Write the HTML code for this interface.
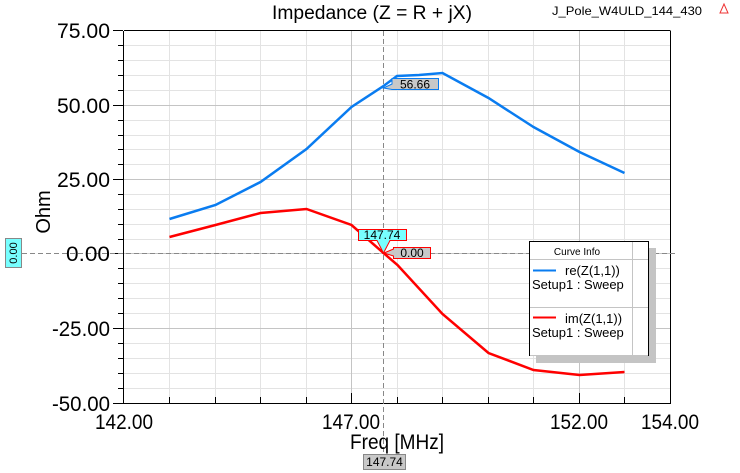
<!DOCTYPE html>
<html><head><style>body{margin:0;background:#fff}svg{display:block;font-family:"Liberation Sans",sans-serif}</style></head><body>
<svg width="740" height="473" viewBox="0 0 740 473" xmlns="http://www.w3.org/2000/svg">
<rect width="740" height="473" fill="#fff"/>
<g stroke="#e3e3e3" stroke-width="1">
<path d="M169.5 31V403M215.5 31V403M260.5 31V403M306.5 31V403M351.5 31V403M397.5 31V403M442.5 31V403M488.5 31V403M533.5 31V403M624.5 31V403"/>
<path d="M124 45.5H670M124 60.5H670M124 75.5H670M124 90.5H670M124 120.5H670M124 135.5H670M124 149.5H670M124 164.5H670M124 194.5H670M124 209.5H670M124 224.5H670M124 239.5H670M124 268.5H670M124 283.5H670M124 298.5H670M124 313.5H670M124 343.5H670M124 358.5H670M124 373.5H670M124 388.5H670"/>
</g>
<g stroke="#c4c4c4"><path d="M351.5 31V403M579.5 31V403M124 105.5H670M124 179.5H670M124 253.5H670M124 328.5H670"/></g>
<g stroke="#000" fill="none"><path d="M123.5 31V403.5H670.5V31"/><path d="M124 30.5H670.5"/>
<path d="M113 30.5H123M113 105.5H123M113 179.5H123M113 253.5H123M113 328.5H123M113 403.5H123"/>
<path d="M118 45.5H123M118 60.5H123M118 75.5H123M118 90.5H123M118 120.5H123M118 135.5H123M118 149.5H123M118 164.5H123M118 194.5H123M118 209.5H123M118 224.5H123M118 239.5H123M118 268.5H123M118 283.5H123M118 298.5H123M118 313.5H123M118 343.5H123M118 358.5H123M118 373.5H123M118 388.5H123"/>
<path d="M169.5 397V403M215.5 397V403M260.5 397V403M306.5 397V403M397.5 397V403M442.5 397V403M488.5 397V403M533.5 397V403M624.5 397V403M351.5 393V403M579.5 393V403"/>
</g>
<g stroke="#888" stroke-dasharray="5,3"><path d="M22 253.5H676M383.5 31V455"/></g>
<polyline fill="none" stroke="#0a7cf0" stroke-width="2.5" points="169.5,219 215.5,205 260.5,182 306.5,149 351.5,107 383.5,86 397,76 419,75 442.5,73 488.5,98 533.5,127 579.5,152 624.5,173"/>
<polyline fill="none" stroke="#f00" stroke-width="2.5" points="169.5,237 215.5,225 260.5,213 306.5,209 351.5,225 383.5,253 397.5,265 442.5,314 488.5,353 533.5,370 579.5,375 624.5,372"/>
<g font-size="21" fill="#000" lengthAdjust="spacingAndGlyphs">
<text x="57" y="38" textLength="53" lengthAdjust="spacingAndGlyphs">75.00</text>
<text x="57" y="113" textLength="53" lengthAdjust="spacingAndGlyphs">50.00</text>
<text x="57" y="187" textLength="53" lengthAdjust="spacingAndGlyphs">25.00</text>
<text x="66" y="261" textLength="44" lengthAdjust="spacingAndGlyphs">0.00</text>
<text x="52" y="336" textLength="58" lengthAdjust="spacingAndGlyphs">-25.00</text>
<text x="52" y="411" textLength="58" lengthAdjust="spacingAndGlyphs">-50.00</text>
<text x="95" y="429" textLength="58" lengthAdjust="spacingAndGlyphs">142.00</text>
<text x="322" y="429" textLength="58" lengthAdjust="spacingAndGlyphs">147.00</text>
<text x="550" y="429" textLength="58" lengthAdjust="spacingAndGlyphs">152.00</text>
<text x="641" y="429" textLength="58" lengthAdjust="spacingAndGlyphs">154.00</text>
<text x="350" y="449" textLength="94" lengthAdjust="spacingAndGlyphs">Freq [MHz]</text>
<text x="272" y="19" font-size="19" textLength="200" lengthAdjust="spacingAndGlyphs">Impedance (Z = R + jX)</text></g>
<text x="50" y="212" font-size="20" text-anchor="middle" transform="rotate(-90 50 212)">Ohm</text>
<text x="552" y="15" font-size="12" textLength="150" lengthAdjust="spacingAndGlyphs">J_Pole_W4ULD_144_430</text>
<path d="M724 4L720 13H728Z" fill="none" stroke="#e33" stroke-width="1"/>
<rect x="5.5" y="238.5" width="16" height="29" fill="#7ff" stroke="#888"/>
<text x="17" y="253" font-size="11" text-anchor="middle" transform="rotate(-90 17 253)">0.00</text>
<rect x="363.5" y="454.5" width="42" height="15" fill="#c8c8c8" stroke="#888"/>
<text x="384.5" y="466" font-size="12" text-anchor="middle">147.74</text>
<path d="M383.5 88L392 84V78.5H438.5V89.5H392Z" fill="#c8c8c8" stroke="#0a7cf0"/>
<text x="415" y="88.5" font-size="12" text-anchor="middle">56.66</text>
<path d="M358.5 229.5H406.5V240.5H390L383.5 253L377 240.5H358.5Z" fill="#7ff" stroke="#f00"/>
<text x="382" y="239" font-size="12" text-anchor="middle">147.74</text>
<path d="M384 253L393.5 249V247.5H430.5V258.5H393.5V256Z" fill="#c8c8c8" stroke="#f00"/>
<text x="412" y="257" font-size="12" text-anchor="middle">0.00</text>
<rect x="536" y="248" width="120" height="115" fill="#c4c4c4"/>
<rect x="529.5" y="241.5" width="119" height="114" fill="#fff" stroke="#000"/>
<path d="M530 259.5H648M530 307.5H648M530 355.5H648M632.5 242V355" stroke="#c4c4c4"/>
<text x="577" y="255" font-size="10" text-anchor="middle">Curve Info</text>
<path d="M533 270.5H556" stroke="#0a7cf0" stroke-width="2"/><path d="M533 317.5H556" stroke="#f00" stroke-width="2"/>
<g font-size="13"><text x="565" y="275">re(Z(1,1))</text><text x="532" y="289">Setup1 : Sweep</text><text x="565" y="323">im(Z(1,1))</text><text x="532" y="337">Setup1 : Sweep</text></g>
</svg>
</body></html>
